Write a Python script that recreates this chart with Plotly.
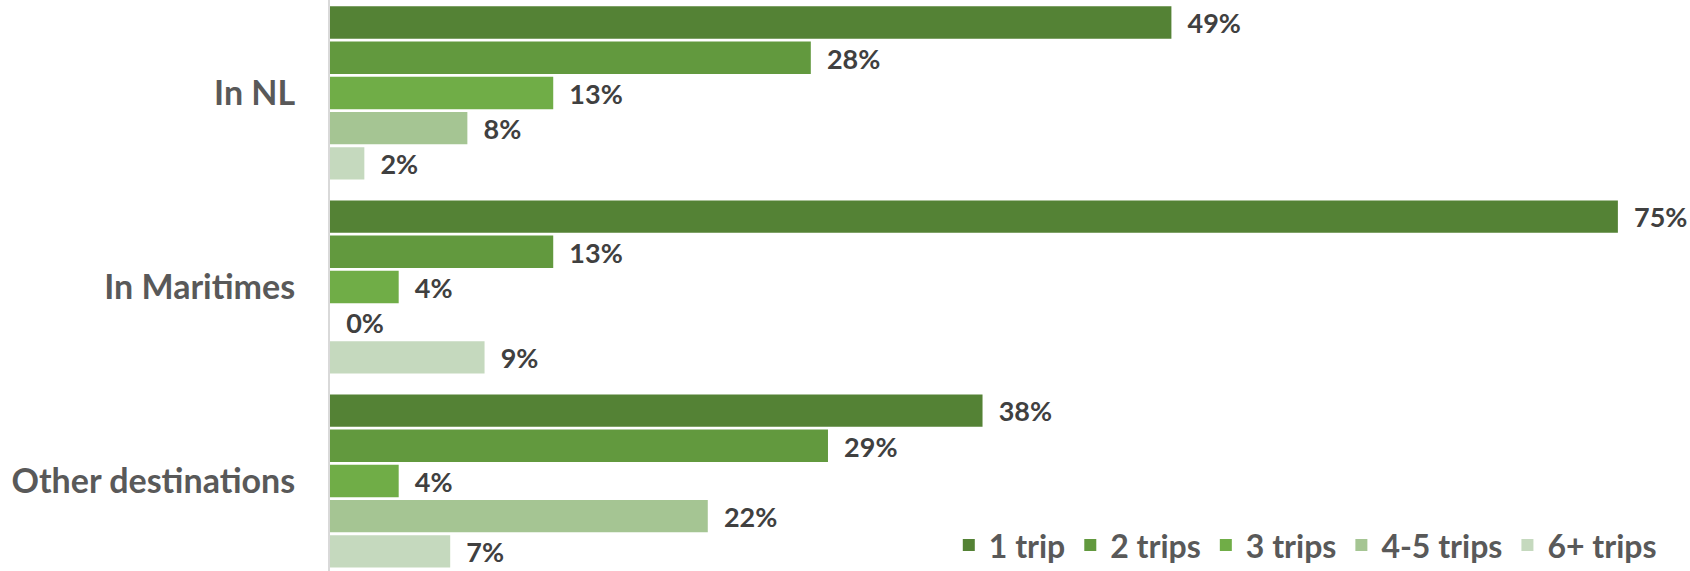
import plotly.graph_objects as go

categories = ["In NL", "In Maritimes", "Other destinations"]
series_names = ["1 trip", "2 trips", "3 trips", "4-5 trips", "6+ trips"]
trip1 = [49, 75, 38]
trip2 = [28, 13, 29]
trip3 = [13, 4, 4]
trip45 = [8, 0, 22]
trip6 = [2, 9, 7]
colors = ["#548235", "#62993E", "#70AD47", "#A5C593", "#C5D9BE"]

FONT = "Lato"
NB = "\u00a0\u00a0"
fig = go.Figure()
for name, vals, col in zip(series_names, [trip1, trip2, trip3, trip45, trip6], colors):
    fig.add_trace(go.Bar(
        name=name, y=categories, x=vals, orientation="h",
        marker=dict(color=col, line=dict(width=0)),
        text=[f"{NB}{v}%" for v in vals], textposition="outside",
        textfont=dict(family=FONT, size=35, color="#404040", weight="bold"),
        cliponaxis=False,
    ))

fig.update_layout(
    width=1690, height=571,
    margin=dict(l=330, r=0, t=0, b=0, autoexpand=False),
    barmode="group", bargap=0.093, bargroupgap=0.08,
    plot_bgcolor="white", paper_bgcolor="white",
    font=dict(family=FONT, color="#595959"),
    xaxis=dict(range=[0, 79.2], showgrid=False, showticklabels=False, zeroline=False,
               showline=False, fixedrange=True, automargin=False),
    yaxis=dict(autorange=False, range=[2.464, -0.479], showgrid=False, showline=True,
               linecolor="#D9D9D9", linewidth=2, ticks="", ticklabelstandoff=26,
               automargin=False,
               tickfont=dict(family=FONT, size=34, color="#595959", weight="bold")),
    legend=dict(orientation="h", x=0.455, xanchor="left", y=0.045, yanchor="middle",
                bgcolor="rgba(0,0,0,0)", traceorder="normal",
                font=dict(family=FONT, size=32, color="#595959", weight="bold"),
                itemwidth=30),
    showlegend=True,
)
fig.write_html("out.html", post_script="document.body.style.margin='0';",
               config={"displayModeBar": False})
